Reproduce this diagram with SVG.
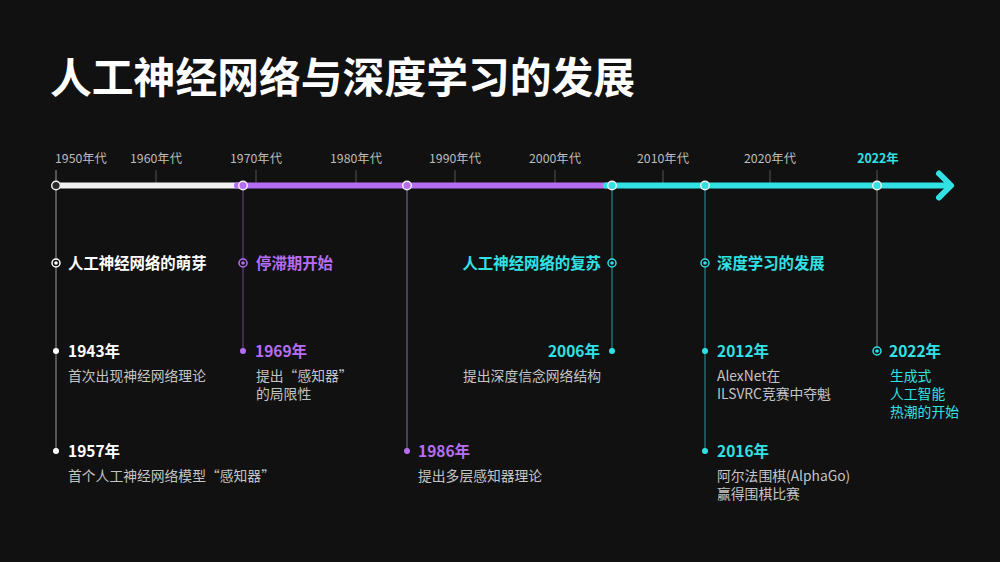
<svg xmlns="http://www.w3.org/2000/svg" width="1000" height="562" viewBox="0 0 1000 562">
<style>
text{font-family:"Noto Sans CJK SC","Noto Sans",sans-serif}
.title{font-size:41.8px;font-weight:700;fill:#fff}
.dec{font-size:12.3px;fill:#bdbdbd;text-anchor:middle}
.hd{font-size:15.4px;font-weight:700}
.yr{font-size:15.5px;font-weight:700}
.ds{font-size:13.8px;fill:#c4c4c4}
.w{fill:#ffffff}.p{fill:#b56ef3}.c{fill:#31e1e4}
.tick{stroke:#555;stroke-width:1}
</style>
<rect width="1000" height="562" fill="#111111"/>
<text class="title" x="50" y="93">人工神经网络与深度学习的发展</text>

<g id="axis">
<text class="dec" x="55" y="163" style="text-anchor:start">1950年代</text>
<text class="dec" x="156" y="163">1960年代</text>
<text class="dec" x="256" y="163">1970年代</text>
<text class="dec" x="356" y="163">1980年代</text>
<text class="dec" x="455" y="163">1990年代</text>
<text class="dec" x="555" y="163">2000年代</text>
<text class="dec" x="663" y="163">2010年代</text>
<text class="dec" x="770" y="163">2020年代</text>
<text class="dec c" x="878" y="163" style="font-weight:700">2022年</text>
<line class="tick" x1="156" y1="170" x2="156" y2="183"/>
<line class="tick" x1="256" y1="170" x2="256" y2="183"/>
<line class="tick" x1="356" y1="170" x2="356" y2="183"/>
<line class="tick" x1="455" y1="170" x2="455" y2="183"/>
<line class="tick" x1="555" y1="170" x2="555" y2="183"/>
<line class="tick" x1="663" y1="170" x2="663" y2="183"/>
<line class="tick" x1="770" y1="170" x2="770" y2="183"/>
<line class="tick" x1="877" y1="170" x2="877" y2="183"/>
<line x1="56" y1="170" x2="56" y2="183" stroke="#999" stroke-width="1"/>
</g>

<g id="connectors" fill="none" stroke-width="1">
<line x1="56" y1="185" x2="56" y2="451" stroke="#9a9a9a"/>
<line x1="243" y1="185" x2="243" y2="351" stroke="#6e4c92"/>
<line x1="407" y1="185" x2="407" y2="451" stroke="#8a6aa8"/>
<line x1="612" y1="185" x2="612" y2="351" stroke="#1f9ea2"/>
<line x1="705" y1="185" x2="705" y2="451" stroke="#1f9ea2"/>
<line x1="877" y1="185" x2="877" y2="347" stroke="#7a7a7a"/>
</g>

<g id="timeline" fill="none" stroke-width="6" stroke-linecap="round">
<line x1="56" y1="185.5" x2="240" y2="185.5" stroke="#f2f2f2" stroke-linecap="butt"/>
<line x1="237" y1="185.5" x2="609" y2="185.5" stroke="#b56ef3"/>
<line x1="606" y1="185.5" x2="948" y2="185.5" stroke="#31e1e4"/>
<polyline points="939,173.5 951,185.5 939,197.5" stroke="#31e1e4" stroke-linejoin="round"/>
</g>

<g id="bar-nodes" stroke="#eeeeee" stroke-width="1.5">
<circle cx="56" cy="185.5" r="4.3" fill="#2a2a2a"/>
<circle cx="243" cy="185.5" r="4.3" fill="#b56ef3"/>
<circle cx="407" cy="185.5" r="4.3" fill="#b56ef3"/>
<circle cx="612" cy="185.5" r="4.3" fill="#31e1e4"/>
<circle cx="705" cy="185.5" r="4.3" fill="#31e1e4"/>
<circle cx="877" cy="185.5" r="4.3" fill="#31e1e4"/>
</g>

<g id="phase-sprout">
<circle cx="56" cy="263" r="4" fill="#111" stroke="#fff" stroke-width="1.5"/>
<circle cx="56" cy="263" r="1.8" fill="#fff"/>
<text class="hd w" x="68" y="268.5">人工神经网络的萌芽</text>
</g>
<g id="phase-stall">
<circle cx="243" cy="263" r="4" fill="#111" stroke="#b56ef3" stroke-width="1.5"/>
<circle cx="243" cy="263" r="1.8" fill="#b56ef3"/>
<text class="hd p" x="256" y="268.5">停滞期开始</text>
</g>
<g id="phase-revival">
<circle cx="612" cy="263" r="4" fill="#111" stroke="#31e1e4" stroke-width="1.5"/>
<circle cx="612" cy="263" r="1.8" fill="#31e1e4"/>
<text class="hd c" x="601" y="268.5" text-anchor="end">人工神经网络的复苏</text>
</g>
<g id="phase-deep">
<circle cx="705" cy="263" r="4" fill="#111" stroke="#31e1e4" stroke-width="1.5"/>
<circle cx="705" cy="263" r="1.8" fill="#31e1e4"/>
<text class="hd c" x="717" y="268.5">深度学习的发展</text>
</g>

<g id="e1943">
<circle cx="56" cy="351" r="3" fill="#fff"/>
<text class="yr w" x="68" y="357">1943年</text>
<text class="ds" x="68" y="381">首次出现神经网络理论</text>
</g>
<g id="e1957">
<circle cx="56" cy="451" r="3" fill="#fff"/>
<text class="yr w" x="68" y="457">1957年</text>
<text class="ds" x="68" y="481">首个人工神经网络模型“感知器”</text>
</g>
<g id="e1969">
<circle cx="243" cy="351" r="3" fill="#b56ef3"/>
<text class="yr p" x="255" y="357">1969年</text>
<text class="ds" x="256" y="381">提出“感知器”</text>
<text class="ds" x="256" y="399">的局限性</text>
</g>
<g id="e1986">
<circle cx="407" cy="451" r="3" fill="#b56ef3"/>
<text class="yr p" x="418" y="457">1986年</text>
<text class="ds" x="418" y="481">提出多层感知器理论</text>
</g>
<g id="e2006">
<circle cx="612" cy="351" r="3" fill="#31e1e4"/>
<text class="yr c" x="600" y="357" text-anchor="end">2006年</text>
<text class="ds" x="601" y="381" text-anchor="end">提出深度信念网络结构</text>
</g>
<g id="e2012">
<circle cx="705" cy="351" r="3" fill="#31e1e4"/>
<text class="yr c" x="717" y="357">2012年</text>
<text class="ds" x="717" y="381">AlexNet在</text>
<text class="ds" x="717" y="399">ILSVRC竞赛中夺魁</text>
</g>
<g id="e2016">
<circle cx="705" cy="451" r="3" fill="#31e1e4"/>
<text class="yr c" x="717" y="457">2016年</text>
<text class="ds" x="717" y="481">阿尔法围棋(AlphaGo)</text>
<text class="ds" x="717" y="499">赢得围棋比赛</text>
</g>
<g id="e2022">
<circle cx="877" cy="351" r="4" fill="#111" stroke="#31e1e4" stroke-width="1.5"/>
<circle cx="877" cy="351" r="1.8" fill="#31e1e4"/>
<text class="yr c" x="889" y="357">2022年</text>
<text class="ds c" x="890" y="381">生成式</text>
<text class="ds c" x="890" y="399">人工智能</text>
<text class="ds c" x="890" y="417">热潮的开始</text>
</g>
</svg>
